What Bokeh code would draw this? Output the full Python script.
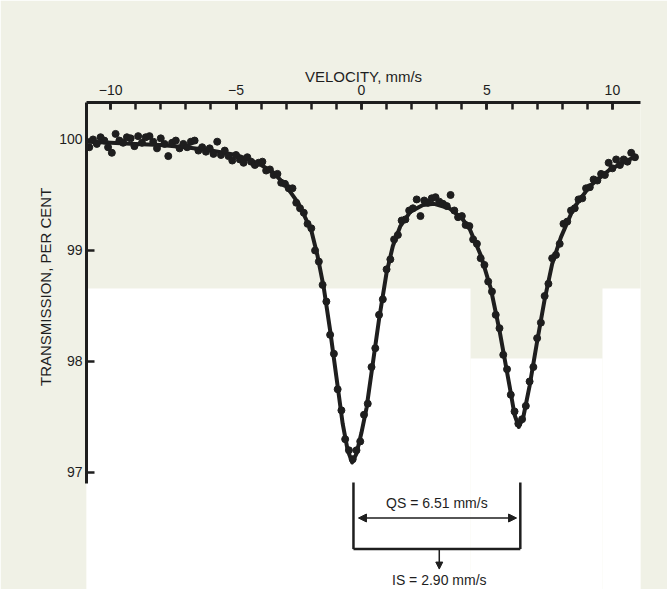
from bokeh.plotting import figure
from bokeh.models import FixedTicker, Range1d, Label, Arrow, NormalHead, BoxAnnotation, Title
from bokeh.embed import file_html
from bokeh.resources import INLINE

# ---------------- data ----------------
vel_major = [-10, -5, 0, 5, 10]
vel_minor = [-10, -9, -8, -7, -6, -5, -4, -3, -2, -1, 0, 1, 2, 3, 4, 5, 6, 7, 8, 9, 10]
trans_ticks = [97, 98, 99, 100]

# fitted curve (velocity mm/s, transmission %)
curve_v = [-10.9, -10.0, -9.0, -8.0, -7.0, -6.0, -5.0, -4.5, -4.0, -3.5, -3.0, -2.5,
           -2.0, -1.75, -1.5, -1.25, -1.0, -0.75, -0.55, -0.37, -0.2, 0.0, 0.2, 0.45,
           0.7, 1.0, 1.25, 1.55, 1.95, 2.45, 2.9, 3.5, 4.0, 4.3, 4.75, 5.15, 5.5, 5.9,
           6.1, 6.27, 6.45, 6.7, 7.0, 7.3, 7.6, 7.95, 8.45, 9.1, 9.9, 10.5, 10.95]
curve_t = [99.98, 99.97, 99.96, 99.95, 99.93, 99.90, 99.86, 99.82, 99.77, 99.70, 99.58, 99.42,
           99.18, 98.95, 98.66, 98.28, 97.86, 97.44, 97.20, 97.09, 97.17, 97.36, 97.58, 97.98,
           98.38, 98.80, 99.04, 99.22, 99.35, 99.41, 99.42, 99.38, 99.29, 99.20, 98.96, 98.66, 98.28, 97.78,
           97.52, 97.41, 97.50, 97.78, 98.18, 98.56, 98.88, 99.12, 99.38, 99.58, 99.73, 99.80, 99.85]

# measured points
dot_v = [-10.85, -10.70, -10.55, -10.40, -10.25, -10.10, -9.95, -9.80, -9.65, -9.50,
         -9.35, -9.20, -9.05, -8.90, -8.75, -8.60, -8.45, -8.30, -8.15, -8.00,
         -7.85, -7.70, -7.55, -7.40, -7.25, -7.10, -6.95, -6.80, -6.65, -6.50,
         -6.35, -6.20, -6.05, -5.90, -5.75, -5.60, -5.45, -5.30, -5.15, -5.00,
         -4.85, -4.70, -4.55, -4.40, -4.25, -4.10, -3.95, -3.80, -3.65, -3.50,
         -3.35, -3.20, -3.05, -2.90, -2.75, -2.60, -2.45, -2.30, -2.15, -2.00,
         -1.85, -1.70, -1.55, -1.40, -1.25, -1.10, -0.95, -0.80, -0.65, -0.50,
         -0.35, -0.20, -0.05, 0.10, 0.25, 0.40, 0.55, 0.70, 0.85, 1.00,
         1.15, 1.30, 1.45, 1.60, 1.75, 1.90, 2.05, 2.20, 2.35, 2.50,
         2.65, 2.80, 2.95, 3.10, 3.25, 3.40, 3.55, 3.70, 3.85, 4.00,
         4.15, 4.30, 4.45, 4.60, 4.75, 4.90, 5.05, 5.20, 5.35, 5.50,
         5.65, 5.80, 5.95, 6.10, 6.25, 6.40, 6.55, 6.70, 6.85, 7.00,
         7.15, 7.30, 7.45, 7.60, 7.75, 7.90, 8.05, 8.20, 8.35, 8.50,
         8.65, 8.80, 8.95, 9.10, 9.25, 9.40, 9.55, 9.70, 9.85, 10.00,
         10.15, 10.30, 10.45, 10.60, 10.75, 10.90]
dot_t = [99.93, 100.00, 99.96, 100.02, 99.99, 99.93, 99.88, 100.05, 99.99, 99.97,
         100.02, 100.01, 99.94, 100.03, 99.97, 100.02, 100.03, 99.98, 99.92, 100.01,
         99.96, 99.85, 99.97, 99.99, 99.92, 99.96, 99.93, 99.98, 99.99, 99.90,
         99.93, 99.89, 99.92, 99.87, 99.98, 99.86, 99.90, 99.85, 99.81, 99.86,
         99.82, 99.79, 99.84, 99.80, 99.77, 99.79, 99.80, 99.72, 99.73, 99.68,
         99.69, 99.61, 99.60, 99.56, 99.56, 99.43, 99.38, 99.34, 99.24, 99.20,
         99.00, 98.90, 98.69, 98.54, 98.24, 98.07, 97.75, 97.56, 97.30, 97.20,
         97.12, 97.20, 97.28, 97.52, 97.62, 97.95, 98.12, 98.42, 98.56, 98.83,
         98.92, 99.10, 99.14, 99.27, 99.28, 99.36, 99.38, 99.46, 99.31, 99.45,
         99.43, 99.47, 99.48, 99.44, 99.42, 99.40, 99.50, 99.36, 99.30, 99.31,
         99.23, 99.22, 99.10, 99.06, 98.93, 98.87, 98.72, 98.63, 98.42, 98.30,
         98.06, 97.93, 97.70, 97.55, 97.44, 97.48, 97.60, 97.82, 97.95, 98.21,
         98.35, 98.59, 98.70, 98.93, 98.96, 99.06, 99.24, 99.26, 99.36, 99.38,
         99.46, 99.47, 99.56, 99.57, 99.64, 99.63, 99.69, 99.68, 99.79, 99.74,
         99.82, 99.77, 99.82, 99.80, 99.88, 99.84]

# annotation bracket (velocity positions / transmission levels)
qs_left, qs_right = -0.32, 6.33
bracket_top, bracket_bottom = 96.91, 96.31
qs_arrow_y = 96.59
is_x = 3.1
is_arrow_end = 96.13
qs_text = "QS = 6.51 mm/s"
is_text = "IS = 2.90 mm/s"

INK = "#1e1e1e"
PAPER = "#f0f1e6"
FONT = "Liberation Sans"

p = figure(width=667, height=589, output_backend="svg", toolbar_location=None,
           x_range=Range1d(-10.96, 11.12), y_range=Range1d(95.946, 100.333),
           x_axis_location="above",
           min_border_left=86, min_border_right=27, min_border_top=102, min_border_bottom=0)
p.outline_line_color = None
p.xgrid.visible = False
p.ygrid.visible = False
p.background_fill_color = PAPER
p.border_fill_color = PAPER

# the lower part of the scanned page is white
for l, r, t in [(0, 470, 288), (470, 602, 358), (602, 667, 288)]:
    p.add_layout(BoxAnnotation(left=l, right=r, top=t, bottom=589,
                               left_units="canvas", right_units="canvas",
                               top_units="canvas", bottom_units="canvas",
                               fill_color="white", fill_alpha=1.0, line_color=None,
                               level="underlay", editable=False))

ax = p.xaxis[0]
ax.ticker = FixedTicker(ticks=vel_major, minor_ticks=vel_minor)
ax.axis_label = "VELOCITY, mm/s"
ax.axis_label_text_font = FONT
ax.axis_label_text_font_size = "15px"
ax.axis_label_text_font_style = "normal"
ax.axis_label_text_color = INK
ax.axis_label_standoff = -3
ax.major_label_text_font = FONT
ax.major_label_text_font_size = "14px"
ax.major_label_text_color = INK
ax.major_label_standoff = 8
ax.axis_line_width = 3
ax.axis_line_color = INK
ax.major_tick_in = 7
ax.major_tick_out = 0
ax.minor_tick_in = 7
ax.minor_tick_out = 0
ax.major_tick_line_width = 2.5
ax.minor_tick_line_width = 2.5
ax.major_tick_line_color = INK
ax.minor_tick_line_color = INK

ay = p.yaxis[0]
ay.ticker = FixedTicker(ticks=trans_ticks, minor_ticks=[])
ay.bounds = (96.9, 100.333)
ay.major_label_text_font = FONT
ay.major_label_text_font_size = "14px"
ay.major_label_text_color = INK
ay.major_label_standoff = 4
ay.axis_line_width = 3
ay.axis_line_color = INK
ay.major_tick_in = 8
ay.major_tick_out = 0
ay.minor_tick_in = 0
ay.minor_tick_out = 0
ay.major_tick_line_width = 2.5
ay.major_tick_line_color = INK

p.add_layout(Title(text="TRANSMISSION,  PER CENT", align="right", offset=81,
                   text_font=FONT, text_font_size="15px", text_font_style="normal",
                   text_color=INK, standoff=6), "left")

p.line(curve_v, curve_t, line_width=4, line_color=INK, line_join="round")
p.scatter(dot_v, dot_t, size=7, fill_color=INK, line_color=INK)

# bracket
p.segment(x0=[qs_left, qs_right, qs_left], y0=[bracket_top, bracket_top, bracket_bottom],
          x1=[qs_left, qs_right, qs_right], y1=[bracket_bottom, bracket_bottom, bracket_bottom],
          line_width=2.5, line_color=INK)
p.add_layout(Arrow(start=NormalHead(size=8, fill_color=INK, line_color=INK),
                   end=NormalHead(size=8, fill_color=INK, line_color=INK),
                   x_start=qs_left + 0.2, y_start=qs_arrow_y, x_end=qs_right - 0.15, y_end=qs_arrow_y,
                   line_width=1.5, line_color=INK))
p.add_layout(Arrow(end=NormalHead(size=7, fill_color=INK, line_color=INK),
                   x_start=is_x, y_start=bracket_bottom, x_end=is_x, y_end=is_arrow_end,
                   line_width=1.5, line_color=INK))

p.add_layout(Label(x=(qs_left + qs_right) / 2, y=qs_arrow_y, y_offset=15, text=qs_text,
                   text_align="center", text_baseline="middle", text_font=FONT,
                   text_font_size="14px", text_color=INK))
p.add_layout(Label(x=is_x, y=is_arrow_end, y_offset=-11, text=is_text,
                   text_align="center", text_baseline="middle", text_font=FONT,
                   text_font_size="14px", text_color=INK))

open("out.html", "w").write(file_html(p, INLINE))
